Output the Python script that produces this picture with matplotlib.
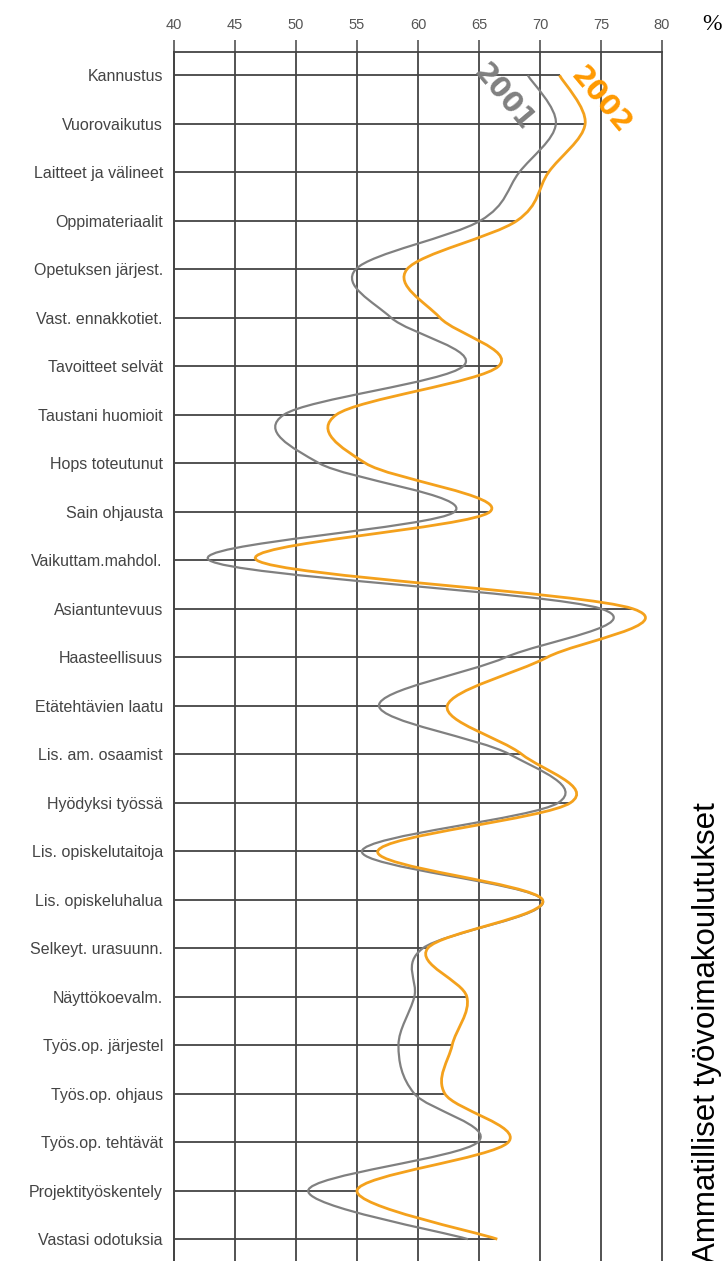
import matplotlib
matplotlib.use("Agg")
import matplotlib.pyplot as plt
from matplotlib.path import Path
from matplotlib.patches import PathPatch
import numpy as np

categories = [
    "Kannustus", "Vuorovaikutus", "Laitteet ja välineet", "Oppimateriaalit",
    "Opetuksen järjest.", "Vast. ennakkotiet.", "Tavoitteet selvät",
    "Taustani huomioit", "Hops toteutunut", "Sain ohjausta",
    "Vaikuttam.mahdol.", "Asiantuntevuus", "Haasteellisuus",
    "Etätehtävien laatu", "Lis. am. osaamist", "Hyödyksi työssä",
    "Lis. opiskelutaitoja", "Lis. opiskeluhalua", "Selkeyt. urasuunn.",
    "Näyttökoevalm.", "Työs.op. järjestel", "Työs.op. ohjaus",
    "Työs.op. tehtävät", "Projektityöskentely", "Vastasi odotuksia",
]
share_2001 = [69.0, 71.3, 68.3, 65.1, 54.9, 57.8, 63.7, 49.0, 51.9, 63.0,
              42.9, 75.0, 67.2, 56.8, 67.5, 71.5, 55.4, 70.2, 60.4, 59.7,
              58.4, 59.7, 64.9, 51.0, 64.1]
share_2002 = [71.6, 73.7, 70.7, 68.1, 59.1, 61.8, 66.6, 53.3, 55.7, 65.9,
              46.8, 77.6, 70.6, 62.4, 68.5, 72.5, 56.7, 70.2, 60.8, 64.0,
              62.8, 62.2, 67.4, 55.0, 66.5]
x_ticks = [40, 45, 50, 55, 60, 65, 70, 75, 80]

GRID = "#444444"
GRAY = "#808080"
ORANGE = "#f4a11c"


def smooth_path(xs, ys):
    # catmull-rom through the points, written as cubic bezier segments
    pts = np.column_stack([xs, ys]).astype(float)
    n = len(pts)
    verts = [pts[0]]
    codes = [Path.MOVETO]
    for i in range(n - 1):
        p0 = pts[max(i - 1, 0)]
        p1 = pts[i]
        p2 = pts[i + 1]
        p3 = pts[min(i + 2, n - 1)]
        verts += [p1 + (p2 - p0) / 6, p2 - (p3 - p1) / 6, p2]
        codes += [Path.CURVE4] * 3
    return Path(verts, codes)


fig = plt.figure(figsize=(7.27, 12.61), dpi=100)
ax = fig.add_axes([174 / 727, 0.0, 488 / 727, 1 - 52 / 1261])

rows = np.arange(len(categories))
ax.set_xlim(40, 80)
ax.set_ylim(24.45, -0.48)

for x in x_ticks:
    ax.axvline(x, color=GRID, lw=1.3, zorder=1, clip_on=False)
ax.hlines(rows, 40, share_2002, color=GRID, lw=1.3, zorder=1)

ax.add_patch(PathPatch(smooth_path(share_2001, rows), fill=False,
                       edgecolor=GRAY, lw=1.6, zorder=3))
ax.add_patch(PathPatch(smooth_path(share_2002, rows), fill=False,
                       edgecolor=ORANGE, lw=2.0, zorder=4))

ax.xaxis.tick_top()
ax.set_xticks(x_ticks)
ax.set_xticklabels([str(t) for t in x_ticks], fontsize=10.5,
                   family="Liberation Sans", color="#555555")
ax.tick_params(axis="x", direction="out", length=8.5, width=1.1,
               color=GRID, pad=6)
ax.set_yticks(rows)
ax.set_yticklabels(categories, fontsize=11.5, family="Liberation Sans",
                   color="#444444")
ax.tick_params(axis="y", length=0, pad=8)

for side in ["bottom", "right"]:
    ax.spines[side].set_visible(False)
ax.spines["top"].set_color(GRID)
ax.spines["top"].set_linewidth(1.3)
ax.spines["left"].set_color(GRID)
ax.spines["left"].set_linewidth(1.3)

ax.text(67.0, 0.45, "2001", rotation=-50, ha="center", va="center",
        fontsize=20, fontweight="bold", color=GRAY, zorder=5)
ax.text(75.0, 0.52, "2002", rotation=-50, ha="center", va="center",
        fontsize=20, fontweight="bold", color="#ff9900", zorder=5)

fig.text(712 / 727, 1 - 25 / 1261, "%", ha="center", va="center",
         fontsize=17, family="Liberation Serif", color="black")
fig.text(707 / 727, 1 - 802 / 1261, "Ammatilliset työvoimakoulutukset",
         rotation=90, ha="center", va="top", fontsize=22.5,
         family="Liberation Sans", color="black")

fig.savefig("out.png", dpi=100)
